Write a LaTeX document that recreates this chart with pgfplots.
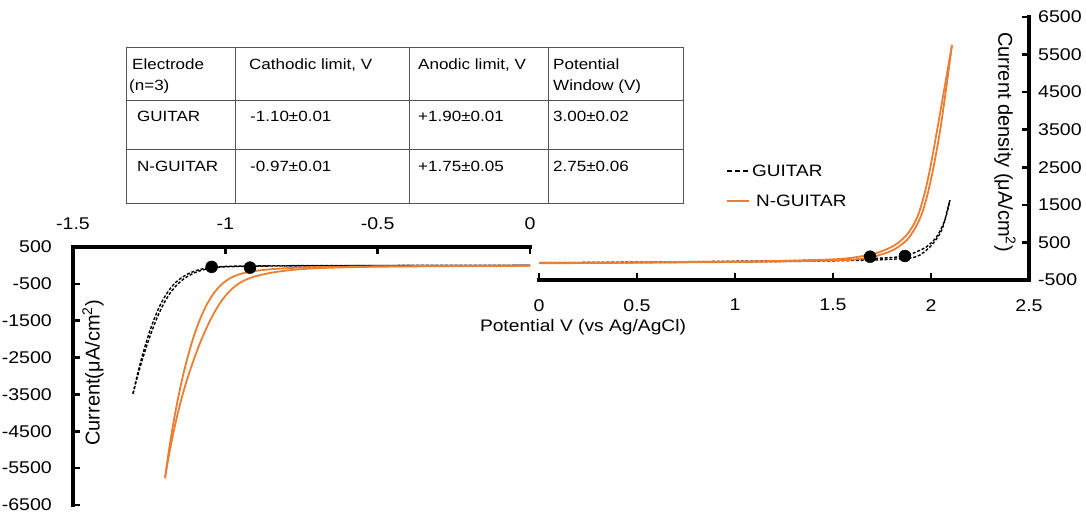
\documentclass[border=0pt]{standalone}
\usepackage{pgfplots}
\pgfplotsset{compat=1.18}
\usepackage{fontspec}
\setmainfont{Liberation Sans}[FakeStretch=1.15]
\newfontfamily\plainfont{Liberation Sans}
\definecolor{orng}{HTML}{ED7D31}
\definecolor{tabline}{HTML}{555555}
\newcommand\ticfont{\fontsize{17}{20}\selectfont}
\newcommand\tabfont{\fontsize{14.8}{17}\selectfont}
\newcommand\legfont{\fontsize{16.5}{19}\selectfont}

\pgfplotsset{
  cvbase/.style={scale only axis, anchor=south west, clip=false, hide axis},
  gdash/.style={black, line width=1.4pt, dash pattern=on 3pt off 1.8pt, smooth, tension=0.5},
  nline/.style={orng, line width=1.8pt, smooth, tension=0.5},
}
\tikzset{
  axln/.style={black, line width=3.2pt, line cap=rect},
  tck/.style={black, line width=2.6pt},
  tlab/.style={font=\ticfont, inner sep=0pt},
}

\begin{document}
\begin{tikzpicture}
\useasboundingbox (0pt,0pt) rectangle (1086pt,514pt);

% ---------- table ----------
\draw[tabline, line width=1pt] (126pt,466pt) rectangle (683pt,310pt);
\draw[tabline, line width=1pt] (126pt,413pt) -- (683pt,413pt);
\draw[tabline, line width=1pt] (126pt,364pt) -- (683pt,364pt);
\foreach \xx in {235,409,548} \draw[tabline, line width=1pt] (\xx pt,466pt) -- (\xx pt,310pt);
\begin{scope}[every node/.style={anchor=base west, inner sep=0pt, font=\tabfont}]
\node at (132pt,444pt) {Electrode};
\node at (129pt,423pt) {(n=3)};
\node at (249pt,444pt) {Cathodic limit, V};
\node at (418pt,444pt) {Anodic limit, V};
\node at (553pt,444pt) {Potential};
\node at (553pt,423pt) {Window (V)};
\node at (137pt,392pt) {GUITAR};
\node at (250pt,392pt) {-1.10±0.01};
\node at (418pt,392pt) {+1.90±0.01};
\node at (553pt,392pt) {3.00±0.02};
\node at (137pt,342pt) {N-GUITAR};
\node at (250pt,342pt) {-0.97±0.01};
\node at (418pt,342pt) {+1.75±0.05};
\node at (553pt,342pt) {2.75±0.06};
\end{scope}

% ---------- left (cathodic) axis ----------
\begin{axis}[cvbase, at={(73pt,9pt)}, width=457pt, height=258pt,
  xmin=-1.5, xmax=0, ymin=-6500, ymax=500]
\addplot[gdash] coordinates {
(-1.303,-3480) (-1.292,-3080) (-1.280,-2680) (-1.266,-2260) (-1.250,-1830)
(-1.233,-1440) (-1.214,-1080) (-1.193,-770) (-1.170,-520) (-1.145,-340)
(-1.118,-210) (-1.090,-125) (-1.060,-70) (-1.030,-40) (-0.980,-22)
(-0.900,-12) (-0.700,-5) (-0.400,0) (0,5)};
\addplot[gdash] coordinates {
(-1.303,-3480) (-1.288,-3000) (-1.274,-2600) (-1.258,-2180) (-1.241,-1780)
(-1.223,-1400) (-1.203,-1050) (-1.181,-750) (-1.157,-510) (-1.131,-335)
(-1.104,-210) (-1.075,-125) (-1.045,-65) (-1.000,-38) (-0.919,-22)
(-0.800,-14) (-0.500,-5) (0,0)};
\addplot[nline] coordinates {
(-1.198,-5772) (-1.191,-5350) (-1.182,-4850) (-1.171,-4300) (-1.157,-3680)
(-1.141,-3060) (-1.124,-2500) (-1.105,-1960) (-1.085,-1500) (-1.064,-1110)
(-1.040,-780) (-1.013,-520) (-0.983,-340) (-0.950,-230) (-0.910,-160)
(-0.860,-110) (-0.800,-75) (-0.700,-45) (-0.500,-25) (-0.250,-15) (0,-10)};
\addplot[nline] coordinates {
(-1.198,-5772) (-1.188,-5280) (-1.176,-4760) (-1.162,-4220) (-1.146,-3680)
(-1.128,-3160) (-1.108,-2660) (-1.088,-2210) (-1.068,-1810) (-1.048,-1460)
(-1.028,-1160) (-1.005,-880) (-0.980,-650) (-0.950,-460) (-0.915,-330)
(-0.880,-250) (-0.840,-185) (-0.790,-130) (-0.730,-90) (-0.650,-60)
(-0.500,-35) (-0.250,-18) (0,-10)};
\addplot[only marks, mark=*, mark size=6pt, black] coordinates {(-1.045,-40) (-0.919,-60)};
% axis lines, ticks and tick labels
\draw[axln] (rel axis cs:0,0) -- (rel axis cs:0,1) -- (rel axis cs:1,1);
\pgfplotsinvokeforeach{-1.5,-1,-0.5,0}{
  \draw[tck] (axis cs:#1,500) -- ++(0pt,-7pt);
  \path (axis cs:#1,500) node[tlab, anchor=base, yshift=18pt] {#1};
}
\pgfplotsinvokeforeach{-6500,-5500,-4500,-3500,-2500,-1500,-500,500}{
  \draw[tck] (axis cs:-1.5,#1) -- ++(7pt,0pt);
  \path (axis cs:-1.5,#1) node[tlab, anchor=east, xshift=-21pt] {#1};
}
\end{axis}

% ---------- right (anodic) axis ----------
\begin{axis}[cvbase, at={(539pt,234pt)}, width=490pt, height=263pt,
  xmin=0, xmax=2.5, ymin=-500, ymax=6500,
  legend style={at={(0.382,0.447)}, anchor=north west, draw=none, fill=none,
    font=\legfont, row sep=13pt, inner sep=0pt, nodes={inner sep=2pt}, cells={anchor=west}},
  legend image code/.code={\draw[#1] (0pt,0pt) -- (22pt,0pt);}]
\addlegendimage{black, line width=1.4pt, dash pattern=on 5pt off 3pt}
\addlegendentry{GUITAR}
\addlegendimage{orng, line width=1.8pt}
\addlegendentry{\hspace{4pt}N-GUITAR}
\addplot[gdash, forget plot] coordinates {
(0,-40) (0.3,-30) (0.6,-20) (0.9,-5) (1.2,10) (1.4,25) (1.6,45) (1.7,70)
(1.79,95) (1.867,139) (1.927,253) (1.978,386) (2.029,653) (2.071,1097) (2.097,1630)};
\addplot[gdash, forget plot] coordinates {
(0,-50) (0.5,-35) (1.0,-20) (1.3,-5) (1.5,10) (1.7,30) (1.79,50)
(1.893,86) (1.944,166) (2.004,432) (2.055,831) (2.087,1443) (2.097,1630)};
\addplot[nline, forget plot] coordinates {
(0,-45) (0.5,-30) (1.0,-10) (1.3,15) (1.5,50) (1.587,86) (1.689,170)
(1.740,250) (1.791,360) (1.830,480) (1.876,700) (1.910,960) (1.935,1240)
(1.950,1480) (1.970,1860) (1.990,2330) (2.012,2930) (2.046,3930)
(2.080,4950) (2.107,5756)};
\addplot[nline, forget plot] coordinates {
(0,-55) (0.5,-40) (1.0,-20) (1.3,0) (1.5,20) (1.587,35) (1.689,95)
(1.740,170) (1.791,260) (1.830,370) (1.876,560) (1.910,800) (1.935,1040)
(1.953,1260) (1.970,1540) (1.990,1950) (2.012,2480) (2.046,3460)
(2.080,4700) (2.107,5756)};
\addplot[only marks, mark=*, mark size=6pt, black, forget plot] coordinates {(1.689,120) (1.867,139)};
% axis lines, ticks and tick labels
\draw[axln] (rel axis cs:0,0) -- (rel axis cs:1,0) -- (rel axis cs:1,1);
\pgfplotsinvokeforeach{0,0.5,1,1.5,2,2.5}{
  \draw[tck] (axis cs:#1,-500) -- ++(0pt,7pt);
  \path (axis cs:#1,-500) node[tlab, anchor=north, yshift=-19pt] {#1};
}
\pgfplotsinvokeforeach{-500,500,1500,2500,3500,4500,5500,6500}{
  \draw[tck] (axis cs:2.5,#1) -- ++(-7pt,0pt);
  \path (axis cs:2.5,#1) node[tlab, anchor=west, xshift=9pt] {#1};
}
\end{axis}

% ---------- axis titles ----------
\node[font=\fontsize{16.7}{20}\selectfont] at (583pt,187pt) {Potential V (vs Ag/AgCl)};
\node[rotate=90, font=\plainfont\fontsize{20}{24}\selectfont] at (93pt,141pt) {Current(μA/cm\textsuperscript{2})};
\node[rotate=-90, font=\plainfont\fontsize{20}{24}\selectfont] at (1005pt,372pt) {Current density (μA/cm\textsuperscript{2})};
\end{tikzpicture}
\end{document}
